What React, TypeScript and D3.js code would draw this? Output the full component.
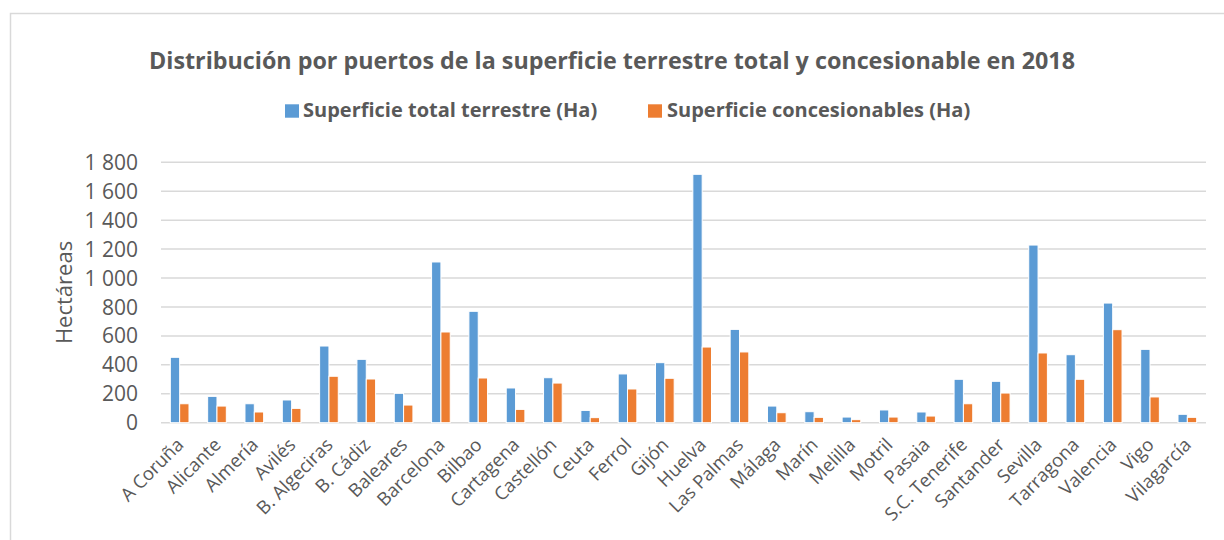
import React from "react";
import * as d3 from "d3";

const categories = [
  "A Coruña", "Alicante", "Almería", "Avilés", "B. Algeciras", "B. Cádiz", "Baleares",
  "Barcelona", "Bilbao", "Cartagena", "Castellón", "Ceuta", "Ferrol", "Gijón", "Huelva",
  "Las Palmas", "Málaga", "Marín", "Melilla", "Motril", "Pasaia", "S.C. Tenerife",
  "Santander", "Sevilla", "Tarragona", "Valencia", "Vigo", "Vilagarcía",
];
const totalTerrestre = [452, 182, 131, 157, 530, 438, 203, 1111, 770, 240, 311, 85, 337, 415, 1717, 645, 115, 76, 39, 88, 74, 300, 286, 1228, 470, 827, 507, 58];
const concesionables = [131, 115, 74, 99, 321, 302, 122, 627, 309, 92, 274, 35, 233, 307, 523, 489, 69, 37, 21, 39, 46, 131, 205, 482, 300, 643, 178, 37];
const seriesNames = ["Superficie total terrestre (Ha)", "Superficie concesionables (Ha)"];
const seriesColors = ["#5B9BD5", "#ED7D31"];
const yTicks = [0, 200, 400, 600, 800, 1000, 1200, 1400, 1600, 1800];
const title = "Distribución por puertos de la superficie terrestre total y concesionable en 2018";
const yTitle = "Hectáreas";

const W = 1224;
const H = 540;
const left = 161;
const right = 1206;
const top = 162.3;
const bottom = 422.7;
const textColor = "#595959";
const font = "'Open Sans', sans-serif";

const fmt = (v: number) => {
  const s = String(v);
  return s.length > 3 ? s.slice(0, s.length - 3) + " " + s.slice(s.length - 3) : s;
};

export default function App() {
  const x0 = d3.scaleBand<string>().domain(categories).range([left, right]).paddingInner(0.5).paddingOuter(0.25);
  const x1 = d3.scaleBand<string>().domain(seriesNames).range([0, x0.bandwidth()]).padding(0);
  const y = d3.scaleLinear().domain([0, 1800]).range([bottom, top]);
  const data = [totalTerrestre, concesionables];

  return (
    <svg width={W} height={H} style={{ position: "absolute", left: 0, top: 0, background: "#fff" }} fontFamily={font}>
      <rect x={0} y={0} width={W} height={H} fill="#fff" />
      <path d={`M10.5,${H} V13.5 H${W}`} fill="none" stroke="#d9d9d9" strokeWidth={1.5} />
      <text x={612} y={69} textAnchor="middle" fontSize={23.3} fontWeight="bold" fill={textColor}>{title}</text>
      {/* legend */}
      <g>
        <rect x={285} y={104.3} width={14} height={13.4} fill={seriesColors[0]} />
        <text x={303} y={117} fontSize={20} fontWeight="bold" fill={textColor}>{seriesNames[0]}</text>
        <rect x={648} y={104.3} width={14} height={13.4} fill={seriesColors[1]} />
        <text x={667} y={117} fontSize={20} fontWeight="bold" fill={textColor}>{seriesNames[1]}</text>
      </g>
      {/* gridlines and y ticks */}
      {yTicks.map((t) => (
        <g key={t}>
          <line x1={left} x2={right} y1={y(t)} y2={y(t)} stroke="#d9d9d9" strokeWidth={1.5} />
          <text x={138} y={y(t)} dy="0.36em" textAnchor="end" fontSize={21} fill={textColor}>{fmt(t)}</text>
        </g>
      ))}
      <text transform={`translate(71.5,${(top + bottom) / 2}) rotate(-90)`} textAnchor="middle" fontSize={22} fill={textColor}>{yTitle}</text>
      {/* bars */}
      {categories.map((c, i) => (
        <g key={c} transform={`translate(${x0(c)},0)`}>
          {seriesNames.map((s, j) => (
            <rect key={s} x={x1(s)} y={y(data[j][i])} width={x1.bandwidth()} height={bottom - y(data[j][i])}
              fill={seriesColors[j]} stroke="#fff" strokeWidth={1} />
          ))}
        </g>
      ))}
      {/* x labels */}
      {categories.map((c) => (
        <text key={c} transform={`translate(${(x0(c) as number) + x0.bandwidth() / 2 + 5},446) rotate(-45)`}
          textAnchor="end" fontSize={18.5} fill={textColor}>{c}</text>
      ))}
    </svg>
  );
}
